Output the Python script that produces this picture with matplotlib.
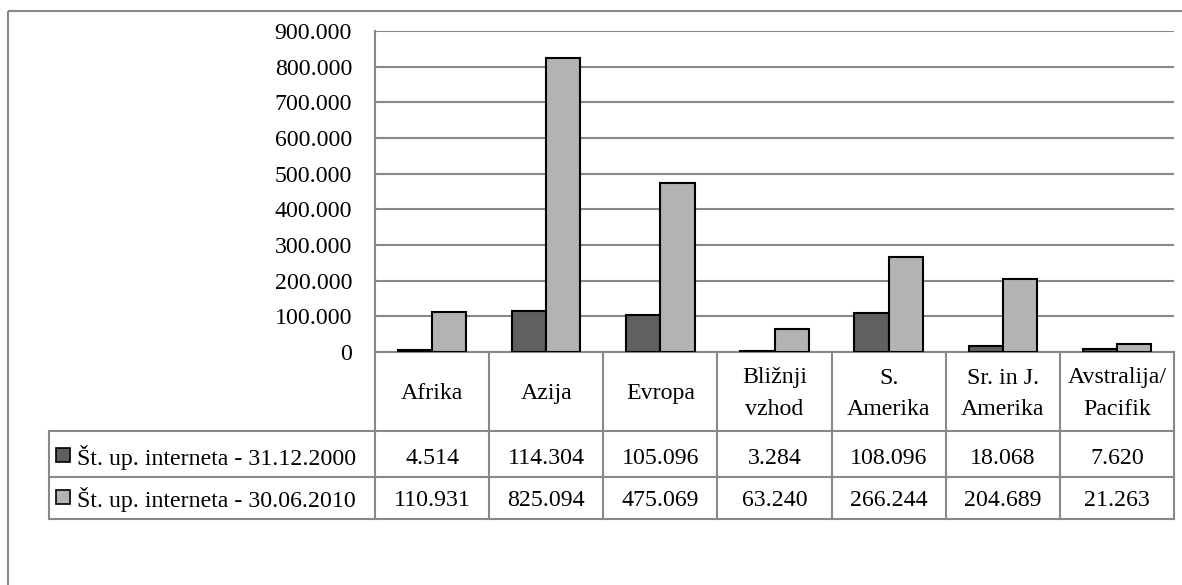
import matplotlib
matplotlib.use("Agg")
import matplotlib.pyplot as plt
from matplotlib.patches import Rectangle
from matplotlib.lines import Line2D
from matplotlib.ticker import FuncFormatter, MultipleLocator

plt.rcParams['font.family'] = ['Liberation Serif', 'DejaVu Serif']

categories = ["Afrika", "Azija", "Evropa", "Bližnji\nvzhod", "S.\nAmerika",
              "Sr. in J.\nAmerika", "Avstralija/\nPacifik"]
series_names = ["Št. up. interneta - 31.12.2000", "Št. up. interneta - 30.06.2010"]
users_2000 = [4514, 114304, 105096, 3284, 108096, 18068, 7620]
users_2010 = [110931, 825094, 475069, 63240, 266244, 204689, 21263]
series_values = [users_2000, users_2010]
series_colors = ["#606060", "#b3b3b3"]

W, H = 1182, 585
FS = 17.2
grid_c = "#888888"

def thousands(v):
    return f"{int(round(v)):,}".replace(",", ".")

fig = plt.figure(figsize=(W / 100, H / 100), dpi=100)

# overlay in pixel coordinates for the outer frame and the data table
ov = fig.add_axes([0, 0, 1, 1])
ov.set_xlim(0, W)
ov.set_ylim(H, 0)
ov.axis("off")
ov.add_patch(Rectangle((8, 11), W + 20, H + 20, fill=False, ec=grid_c, lw=1.5))

x0, x1 = 375, 1174
y_top, y_zero = 31, 352
ax = fig.add_axes([x0 / W, 1 - y_zero / H, (x1 - x0) / W, (y_zero - y_top) / H])
ax.set_facecolor("none")

n = len(categories)
bw = 0.3
for s, (vals, col) in enumerate(zip(series_values, series_colors)):
    xs = [i + (s - 0.5) * bw for i in range(n)]
    ax.bar(xs, vals, width=bw, color=col, edgecolor="black", linewidth=1.5, zorder=3)

ax.set_xlim(-0.5, n - 0.5)
ax.set_ylim(0, 900000)
ax.yaxis.set_major_locator(MultipleLocator(100000))
ax.yaxis.set_major_formatter(FuncFormatter(lambda v, p: thousands(v)))
ax.grid(axis="y", color=grid_c, lw=1.5, zorder=0)
ax.tick_params(axis="y", length=0, pad=16.5, labelsize=FS)
ax.set_xticks([])
for sp in ["top", "right", "bottom"]:
    ax.spines[sp].set_visible(False)
ax.spines["left"].set_color(grid_c)
ax.spines["left"].set_linewidth(1.5)

# data table below the plot
col_w = (x1 - x0) / n
bounds = [x0 + i * col_w for i in range(n + 1)]
leg_x = 49
rows = [y_zero, 431, 477, 519]
lk = dict(color=grid_c, lw=1.5)
ov.add_line(Line2D([x0, x1], [rows[0], rows[0]], **lk))
for y in rows[1:]:
    ov.add_line(Line2D([leg_x, x1], [y, y], **lk))
for xb in bounds:
    ov.add_line(Line2D([xb, xb], [rows[0], rows[3]], **lk))
ov.add_line(Line2D([leg_x, leg_x], [rows[1], rows[3]], **lk))

value_baselines = [464.5, 506.5]
for i, cat in enumerate(categories):
    cx = (bounds[i] + bounds[i + 1]) / 2
    lines = cat.split("\n")
    baselines = [399] if len(lines) == 1 else [383.5, 415]
    for line, yb in zip(lines, baselines):
        ov.text(cx, yb, line, ha="center", va="baseline", fontsize=FS)
    for r, vals in enumerate(series_values):
        ov.text(cx, value_baselines[r], thousands(vals[i]),
                ha="center", va="baseline", fontsize=FS)

square_tops = [448, 490]
for r, (name, col) in enumerate(zip(series_names, series_colors)):
    ov.add_patch(Rectangle((55.5, square_tops[r]), 14, 14, fc=col, ec="black", lw=1.2))
    ov.text(77, value_baselines[r], name, ha="left", va="baseline", fontsize=FS)

fig.savefig("out.png", dpi=100)
